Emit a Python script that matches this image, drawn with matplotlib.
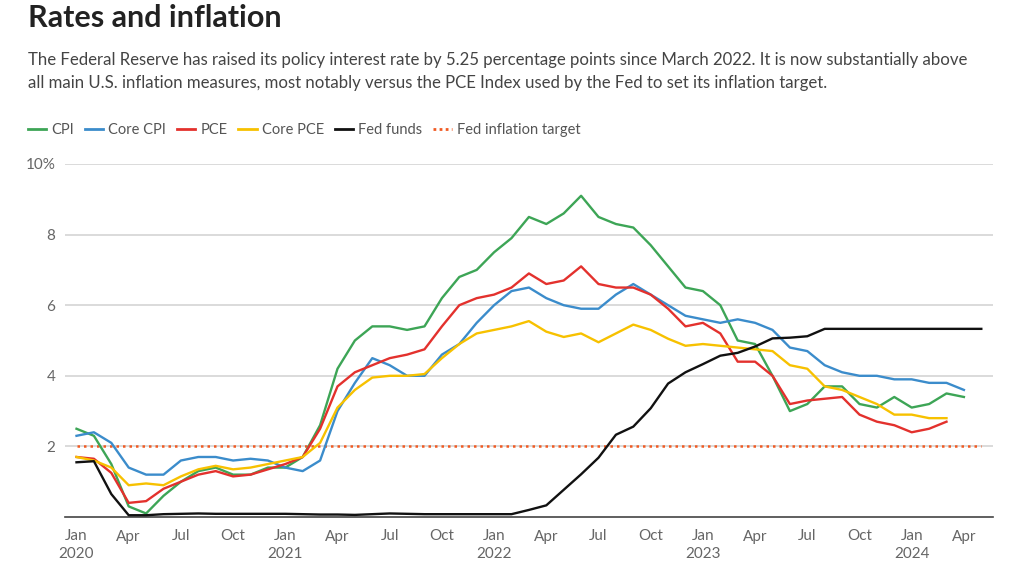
import matplotlib
matplotlib.use("Agg")
import matplotlib.pyplot as plt
from matplotlib.lines import Line2D
import numpy as np

plt.rcParams['font.family'] = ['Lato', 'DejaVu Sans']

# Datos mensuales, Jan 2020 -> May 2024 (% interanual)
cpi = [2.5, 2.3, 1.5, 0.3, 0.1, 0.6, 1.0, 1.3, 1.4, 1.2, 1.2, 1.4,
       1.4, 1.7, 2.6, 4.2, 5.0, 5.4, 5.4, 5.3, 5.4, 6.2, 6.8, 7.0,
       7.5, 7.9, 8.5, 8.3, 8.6, 9.1, 8.5, 8.3, 8.2, 7.7, 7.1, 6.5,
       6.4, 6.0, 5.0, 4.9, 4.0, 3.0, 3.2, 3.7, 3.7, 3.2, 3.1, 3.4,
       3.1, 3.2, 3.5, 3.4]
core_cpi = [2.3, 2.4, 2.1, 1.4, 1.2, 1.2, 1.6, 1.7, 1.7, 1.6, 1.65, 1.6,
            1.4, 1.3, 1.6, 3.0, 3.8, 4.5, 4.3, 4.0, 4.0, 4.6, 4.9, 5.5,
            6.0, 6.4, 6.5, 6.2, 6.0, 5.9, 5.9, 6.3, 6.6, 6.3, 6.0, 5.7,
            5.6, 5.5, 5.6, 5.5, 5.3, 4.8, 4.7, 4.3, 4.1, 4.0, 4.0, 3.9,
            3.9, 3.8, 3.8, 3.6]
pce = [1.7, 1.65, 1.25, 0.4, 0.45, 0.8, 1.0, 1.2, 1.3, 1.15, 1.2, 1.35,
       1.5, 1.7, 2.5, 3.7, 4.1, 4.3, 4.5, 4.6, 4.75, 5.4, 6.0, 6.2,
       6.3, 6.5, 6.9, 6.6, 6.7, 7.1, 6.6, 6.5, 6.5, 6.3, 5.9, 5.4,
       5.5, 5.2, 4.4, 4.4, 4.0, 3.2, 3.3, 3.35, 3.4, 2.9, 2.7, 2.6,
       2.4, 2.5, 2.7]
core_pce = [1.7, 1.6, 1.4, 0.9, 0.95, 0.9, 1.15, 1.35, 1.45, 1.35, 1.4, 1.5,
            1.6, 1.7, 2.1, 3.1, 3.6, 3.95, 4.0, 4.0, 4.05, 4.5, 4.9, 5.2,
            5.3, 5.4, 5.55, 5.25, 5.1, 5.2, 4.95, 5.2, 5.45, 5.3, 5.05, 4.85,
            4.9, 4.85, 4.8, 4.75, 4.7, 4.3, 4.2, 3.7, 3.6, 3.4, 3.2, 2.9,
            2.9, 2.8, 2.8]
fed_funds = [1.55, 1.58, 0.65, 0.05, 0.05, 0.08, 0.09, 0.10, 0.09, 0.09, 0.09, 0.09,
             0.09, 0.08, 0.07, 0.07, 0.06, 0.08, 0.10, 0.09, 0.08, 0.08, 0.08, 0.08,
             0.08, 0.08, 0.20, 0.33, 0.77, 1.21, 1.68, 2.33, 2.56, 3.08, 3.78, 4.10,
             4.33, 4.57, 4.65, 4.83, 5.06, 5.08, 5.12, 5.33, 5.33, 5.33, 5.33, 5.33,
             5.33, 5.33, 5.33, 5.33, 5.33]
target = 2.0

meses = np.arange(len(fed_funds))
tick_pos = np.arange(0, 52, 3)
tick_lab = []
for i in tick_pos:
    m = ['Jan', 'Apr', 'Jul', 'Oct'][(i % 12) // 3]
    tick_lab.append(f'{m}\n{2020 + i // 12}' if i % 12 == 0 else m)

cores = {'CPI': '#3da556', 'Core CPI': '#3b8ccb', 'PCE': '#e3312d',
         'Core PCE': '#f7c100', 'Fed funds': '#111111'}
laranja = '#f15a22'
cinza = '#666666'

fig = plt.figure(figsize=(10.24, 5.76), dpi=100)
ax = fig.add_axes([65/1024, 1 - 517/576, 928/1024, 353/576])

series = [('CPI', cpi), ('Core CPI', core_cpi), ('PCE', pce),
          ('Core PCE', core_pce)]
for nome, vals in series:
    ax.plot(meses[:len(vals)], vals, color=cores[nome], lw=1.7, solid_joinstyle='round', zorder=3)
ax.plot(meses, fed_funds, color=cores['Fed funds'], lw=1.7, zorder=3)
ax.plot(meses, [target] * len(meses), color=laranja, lw=1.8, ls=(0, (1, 1.6)), zorder=2)

ax.set_xlim((65 - 76.5) / 17.4, (993 - 76.5) / 17.4)
ax.set_ylim(0, 10)
ax.set_yticks([2, 4, 6, 8, 10])
ax.set_yticklabels(['2', '4', '6', '8', '10%'])
ax.set_xticks(tick_pos)
ax.set_xticklabels(tick_lab, linespacing=1.35)
ax.grid(axis='y', color='#d4d4d4', lw=1.2)
ax.set_axisbelow(True)
for s in ['top', 'right', 'left']:
    ax.spines[s].set_visible(False)
ax.spines['bottom'].set_color('#444444')
ax.spines['bottom'].set_linewidth(1.2)
ax.tick_params(axis='both', length=0, labelsize=11, labelcolor=cinza)
ax.tick_params(axis='y', pad=7)
ax.tick_params(axis='x', pad=9)

fig.text(28/1024, 1 - 18/576, 'Rates and inflation', fontsize=22, fontweight='bold',
         color='#222222', va='center', ha='left')
fig.text(28/1024, 1 - 60/576,
         'The Federal Reserve has raised its policy interest rate by 5.25 percentage points since March 2022. It is now substantially above',
         fontsize=12.1, color='#444444', va='center', ha='left')
fig.text(28/1024, 1 - 83/576,
         'all main U.S. inflation measures, most notably versus the PCE Index used by the Fed to set its inflation target.',
         fontsize=12.1, color='#444444', va='center', ha='left')

handles = [Line2D([], [], color=cores[n], lw=2) for n in cores]
handles.append(Line2D([], [], color=laranja, lw=2, ls=(0, (1, 1.2))))
labels = list(cores) + ['Fed inflation target']
leg = fig.legend(handles, labels, loc='center left', bbox_to_anchor=(22/1024, 1 - 130/576),
                 ncol=6, frameon=False, fontsize=10.5, handlelength=1.25, handletextpad=0.35,
                 columnspacing=0.75, borderaxespad=0)
for t in leg.get_texts():
    t.set_color('#555555')

plt.savefig('out.png', dpi=100)
